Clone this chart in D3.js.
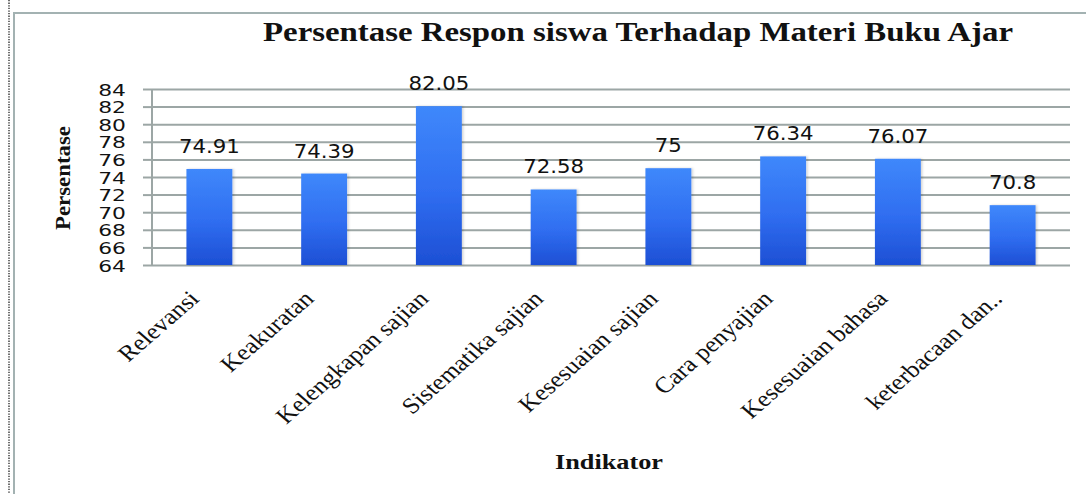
<!DOCTYPE html>
<html>
<head>
<meta charset="utf-8">
<script src="https://cdn.jsdelivr.net/npm/d3@7"></script>
<style>
  html, body { margin: 0; padding: 0; background: #fff; }
  svg { display: block; }
</style>
</head>
<body>
<svg id="chart" width="1087" height="494"></svg>
<script>
// Indicators and their response percentages
const categories = [
  "Relevansi", "Keakuratan", "Kelengkapan sajian", "Sistematika sajian",
  "Kesesuaian sajian", "Cara penyajian", "Kesesuaian bahasa", "keterbacaan dan.."
];
const values = [74.91, 74.39, 82.05, 72.58, 75, 76.34, 76.07, 70.8];
const valueLabels = ["74.91", "74.39", "82.05", "72.58", "75", "76.34", "76.07", "70.8"];
const yTicks = [64, 66, 68, 70, 72, 74, 76, 78, 80, 82, 84];
const titleText = "Persentase Respon siswa Terhadap Materi Buku Ajar";
const xTitle = "Indikator";
const yTitle = "Persentase";

const svg = d3.select("#chart");
const W = 1087, H = 494;
const plot = { left: 152, right: 1070, top: 89, bottom: 265 };

// stretch text horizontally by a factor, keeping its anchor
function stretch(sel, k) {
  sel.each(function () {
    const len = this.getComputedTextLength();
    d3.select(this).attr("textLength", len * k).attr("lengthAdjust", "spacingAndGlyphs");
  });
}

// page frame: dotted margin line and grey border
svg.append("line")
  .attr("x1", 9).attr("x2", 9).attr("y1", 0).attr("y2", H)
  .attr("stroke", "#6d6d6d").attr("stroke-width", 2).attr("stroke-dasharray", "1.3,1.3");
svg.append("path")
  .attr("d", `M14,${H} L14,13 L${W - 1},13`)
  .attr("fill", "none").attr("stroke", "#a3b2b2").attr("stroke-width", 2);

const defs = svg.append("defs");
const grad = defs.append("linearGradient").attr("id", "barFill")
  .attr("x1", 0).attr("y1", 0).attr("x2", 0).attr("y2", 1);
grad.append("stop").attr("offset", "0%").attr("stop-color", "#3f88fb");
grad.append("stop").attr("offset", "55%").attr("stop-color", "#2f6df0");
grad.append("stop").attr("offset", "100%").attr("stop-color", "#1d4fd4");
const shadow = defs.append("filter").attr("id", "barShadow")
  .attr("x", "-20%").attr("y", "-10%").attr("width", "140%").attr("height", "120%");
shadow.append("feDropShadow").attr("dx", 1.5).attr("dy", 0).attr("stdDeviation", 1.2)
  .attr("flood-color", "#000").attr("flood-opacity", 0.18);

const x = d3.scaleBand().domain(categories).range([plot.left, plot.right]).paddingInner(0.6).paddingOuter(0.3);
const y = d3.scaleLinear().domain([64, 84]).range([plot.bottom, plot.top]);

// horizontal gridlines with short outer ticks
const yAxis = d3.axisLeft(y).tickValues(yTicks).tickSize(-(plot.right - plot.left)).tickSizeOuter(0).tickFormat("");
const gy = svg.append("g").attr("transform", `translate(${plot.left},0)`).call(yAxis);
gy.select(".domain").remove();
gy.selectAll(".tick line").attr("stroke", "#9ca6a5").attr("stroke-width", 2);
gy.selectAll(".tick").append("line")
  .attr("x1", -9).attr("x2", 0).attr("stroke", "#9ca6a5").attr("stroke-width", 2);

// y tick labels
svg.append("g").selectAll("text").data(yTicks).join("text")
  .attr("x", 126).attr("y", d => y(d) + 6.5)
  .attr("text-anchor", "end")
  .attr("font-family", "DejaVu Sans, Verdana, sans-serif")
  .attr("font-size", 16.5).attr("fill", "#111")
  .text(d => d)
  .call(stretch, 1.32);

// vertical axis line
svg.append("line")
  .attr("x1", plot.left).attr("x2", plot.left).attr("y1", plot.top).attr("y2", plot.bottom)
  .attr("stroke", "#9ca6a5").attr("stroke-width", 2);

// bars
svg.append("g").selectAll("rect").data(values).join("rect")
  .attr("x", (d, i) => x(categories[i]))
  .attr("y", d => y(d))
  .attr("width", x.bandwidth())
  .attr("height", d => y(64) - y(d))
  .attr("fill", "url(#barFill)")
  .attr("filter", "url(#barShadow)");

// value labels
svg.append("g").selectAll("text").data(values).join("text")
  .attr("x", (d, i) => x(categories[i]) + x.bandwidth() / 2)
  .attr("y", d => y(d) - 16)
  .attr("text-anchor", "middle")
  .attr("font-family", "DejaVu Sans, Verdana, sans-serif")
  .attr("font-size", 19).attr("fill", "#111")
  .text((d, i) => valueLabels[i])
  .call(stretch, 1.12);

// rotated category labels (slightly widened diagonal)
svg.append("g").selectAll("text").data(categories).join("text")
  .attr("transform", d => `translate(${x(d) + x.bandwidth() / 2 - 9},${plot.bottom + 35}) scale(1.15,1) rotate(-45)`)
  .attr("text-anchor", "end")
  .attr("font-family", "Liberation Serif, Times New Roman, serif")
  .attr("font-size", 22.5).attr("fill", "#111")
  .text(d => d);

// titles
svg.append("text")
  .attr("x", 638).attr("y", 41)
  .attr("text-anchor", "middle")
  .attr("font-family", "Liberation Serif, Times New Roman, serif")
  .attr("font-weight", "bold").attr("font-size", 27).attr("fill", "#111")
  .text(titleText)
  .attr("textLength", 750).attr("lengthAdjust", "spacingAndGlyphs");

svg.append("text")
  .attr("x", 609).attr("y", 469)
  .attr("text-anchor", "middle")
  .attr("font-family", "Liberation Serif, Times New Roman, serif")
  .attr("font-weight", "bold").attr("font-size", 21).attr("fill", "#111")
  .text(xTitle)
  .attr("textLength", 108).attr("lengthAdjust", "spacingAndGlyphs");

svg.append("text")
  .attr("transform", `translate(70,178) rotate(-90)`)
  .attr("text-anchor", "middle")
  .attr("font-family", "Liberation Serif, Times New Roman, serif")
  .attr("font-weight", "bold").attr("font-size", 21).attr("fill", "#111")
  .text(yTitle)
  .attr("textLength", 104).attr("lengthAdjust", "spacingAndGlyphs");
</script>
</body>
</html>
